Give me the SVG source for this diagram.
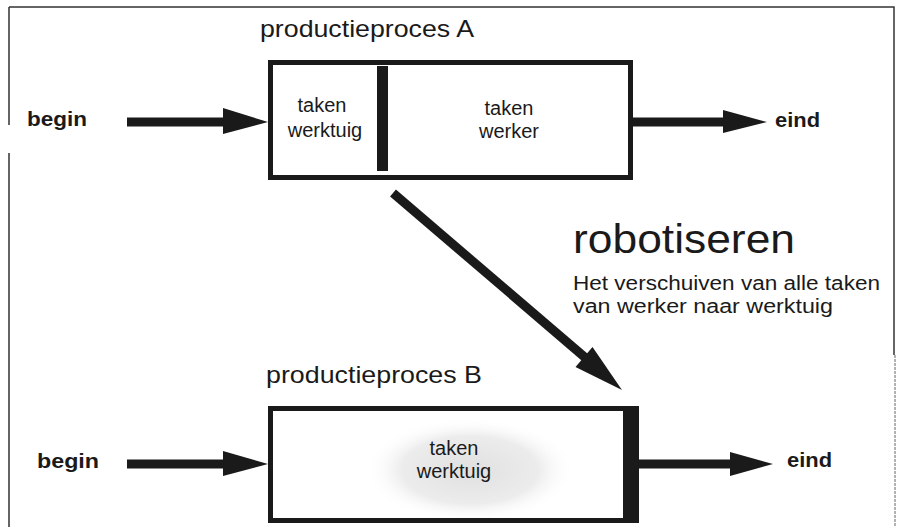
<svg xmlns="http://www.w3.org/2000/svg" width="914" height="527" viewBox="0 0 914 527">
<style>
.t{font-family:"Liberation Sans",Arial,sans-serif;fill:#1a1a1a}
.b{font-weight:bold}
.box{fill:none;stroke:#1a1a1a;stroke-width:5}
.bar{fill:#1a1a1a}
.shaft{stroke:#1a1a1a;stroke-width:9;fill:none}
.head{fill:#1a1a1a}
.frame{stroke:#333;stroke-width:1.5;fill:none}
</style>
<defs>
<radialGradient id="g" cx="0.5" cy="0.5" r="0.5">
<stop offset="0" stop-color="#e0e0e0"/>
<stop offset="0.65" stop-color="#ececec"/>
<stop offset="1" stop-color="#ffffff" stop-opacity="0"/>
</radialGradient>
</defs>
<rect width="914" height="527" fill="#fff"/>
<g id="frame">
<path class="frame" d="M9,7 H894 V355"/>
<path d="M895,355 V527" stroke="#999" stroke-width="1.5" stroke-dasharray="3,1"/>
<path class="frame" d="M9,7 V125 M9,153 V527"/>
</g>
<g id="processA">
<text class="t" x="260" y="37" font-size="24" textLength="214" lengthAdjust="spacingAndGlyphs">productieproces A</text>
<rect class="box" x="270.5" y="62.5" width="360" height="115"/>
<rect class="bar" x="377" y="66" width="11" height="105"/>
<text class="t" x="322" y="112" font-size="20" text-anchor="middle">taken</text>
<text class="t" x="325" y="137" font-size="20" text-anchor="middle">werktuig</text>
<text class="t" x="509" y="115" font-size="20" text-anchor="middle">taken</text>
<text class="t" x="509" y="138" font-size="20" text-anchor="middle">werker</text>
</g>
<g id="beginA"><text class="t b" x="27" y="126" font-size="21" textLength="60" lengthAdjust="spacingAndGlyphs">begin</text></g>
<g id="eindA"><text class="t b" x="775" y="127" font-size="21" textLength="45" lengthAdjust="spacingAndGlyphs">eind</text></g>
<g id="robotiseren">
<text class="t" x="573" y="253" font-size="41" textLength="222" lengthAdjust="spacingAndGlyphs">robotiseren</text>
<text class="t" x="573" y="290" font-size="20" textLength="307" lengthAdjust="spacingAndGlyphs">Het verschuiven van alle taken</text>
<text class="t" x="573" y="313" font-size="20" textLength="260" lengthAdjust="spacingAndGlyphs">van werker naar werktuig</text>
</g>
<g id="processB">
<text class="t" x="266" y="383" font-size="24" textLength="216" lengthAdjust="spacingAndGlyphs">productieproces B</text>
<ellipse cx="470" cy="470" rx="105" ry="52" fill="url(#g)"/>
<rect class="box" x="270.5" y="408.5" width="366" height="112"/>
<rect class="bar" x="623" y="410" width="13" height="109"/>
<text class="t" x="454" y="455" font-size="20" text-anchor="middle">taken</text>
<text class="t" x="454" y="478" font-size="20" text-anchor="middle">werktuig</text>
</g>
<g id="beginB"><text class="t b" x="37" y="468" font-size="21" textLength="62" lengthAdjust="spacingAndGlyphs">begin</text></g>
<g id="eindB"><text class="t b" x="787" y="467" font-size="21" textLength="45" lengthAdjust="spacingAndGlyphs">eind</text></g>
<g id="connectors">
<line class="shaft" x1="127" y1="122" x2="228" y2="122"/>
<polygon class="head" points="223,108 268,122 223,134"/>
<line class="shaft" x1="633" y1="122" x2="728" y2="122"/>
<polygon class="head" points="723,110 767,122 723,133"/>
<line class="shaft" x1="393" y1="193" x2="588" y2="360"/>
<polygon class="head" points="622,390 575.5,367 592.5,347"/>
<line class="shaft" x1="127" y1="464" x2="228" y2="464"/>
<polygon class="head" points="223,451 268,464 223,476"/>
<line class="shaft" x1="639" y1="464" x2="735" y2="464"/>
<polygon class="head" points="730,452 773,464 730,476"/>
</g>
</svg>
